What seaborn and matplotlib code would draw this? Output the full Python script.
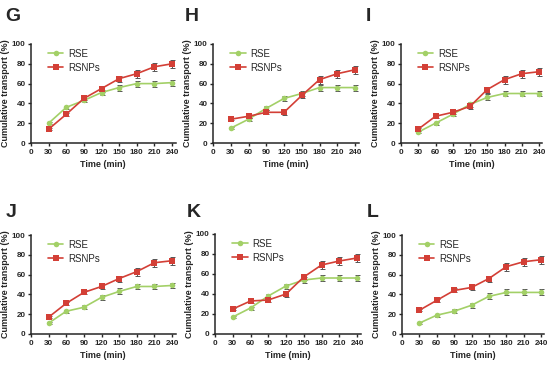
import numpy as np
import pandas as pd
import matplotlib
matplotlib.use('Agg')
import matplotlib.pyplot as plt
import seaborn as sns

# Time points (min)
time = [30, 60, 90, 120, 150, 180, 210, 240]
panels = ['G', 'H', 'I', 'J', 'K', 'L']

# Cumulative transport (%)
rse_G = [20, 36, 43, 51, 56, 60, 60, 61]
rsnp_G = [14, 29, 45, 55, 65, 70, 77, 80]
rse_H = [15, 24, 35, 45, 50, 56, 56, 56]
rsnp_H = [24, 27, 31, 31, 48, 64, 70, 74]
rse_I = [11, 20, 29, 39, 46, 50, 50, 50]
rsnp_I = [14, 27, 31, 37, 54, 64, 70, 72]
rse_J = [11, 23, 27, 37, 43, 48, 48, 49]
rsnp_J = [17, 31, 42, 48, 56, 63, 72, 74]
rse_K = [17, 26, 38, 48, 54, 56, 56, 56]
rsnp_K = [25, 33, 34, 40, 57, 69, 73, 76]
rse_L = [11, 19, 23, 29, 38, 42, 42, 42]
rsnp_L = [24, 34, 44, 47, 56, 68, 73, 75]

# error bars (SD)
err_rse = [1, 1.5, 2, 2.5, 3, 3, 3, 3]
err_rsnp = [1, 1.5, 2, 3, 3, 4, 4, 4]

rse_all = [rse_G, rse_H, rse_I, rse_J, rse_K, rse_L]
rsnp_all = [rsnp_G, rsnp_H, rsnp_I, rsnp_J, rsnp_K, rsnp_L]

green = '#a3d067'
red = '#d33f36'

sns.set_style('ticks')
plt.rcParams['font.family'] = ['Liberation Sans', 'DejaVu Sans']

W, H = 550, 367
fig = plt.figure(figsize=(5.5, 3.67), dpi=100)

# axes pixel boxes: left, top, right(240 tick), bottom
boxes = [(31, 44, 172, 143), (213, 44, 355, 143), (401, 44, 539, 143),
         (31, 235, 172, 334), (215, 234, 357, 334), (402, 235, 541, 334)]
# panel letter positions (x, baseline y) in pixels from top-left
letters = [(5, 21), (185, 21), (366, 21), (6, 217), (187, 217), (367, 217)]

for i, p in enumerate(panels):
    l, t, r, b = boxes[i]
    wpx = (r - l) * 246 / 240
    ax = fig.add_axes([l / W, 1 - b / H, wpx / W, (b - t) / H])
    df = pd.DataFrame({
        'time': time * 2,
        'val': rse_all[i] + rsnp_all[i],
        'group': ['RSE'] * 8 + ['RSNPs'] * 8,
    })
    ax.errorbar(time, rse_all[i], yerr=err_rse, fmt='none', ecolor='#555555',
                elinewidth=0.7, capsize=1.8, capthick=0.7, zorder=1)
    ax.errorbar(time, rsnp_all[i], yerr=err_rsnp, fmt='none', ecolor='#555555',
                elinewidth=0.7, capsize=1.8, capthick=0.7, zorder=1)
    sns.lineplot(data=df, x='time', y='val', hue='group', style='group',
                 palette=[green, red], markers=['o', 's'], dashes=False,
                 markersize=4, markeredgewidth=0, linewidth=1.2, ax=ax)
    ax.set_xlim(0, 246)
    ax.set_ylim(0, 100)
    ax.set_xticks([0, 30, 60, 90, 120, 150, 180, 210, 240])
    ax.set_yticks([0, 20, 40, 60, 80, 100])
    ax.tick_params(labelsize=5.8, width=1, length=2.5, pad=1.5)
    for lab in ax.get_xticklabels() + ax.get_yticklabels():
        lab.set_fontweight('bold')
    for s in ['left', 'bottom']:
        ax.spines[s].set_linewidth(1.1)
    sns.despine(ax=ax)
    ax.set_xlabel('Time (min)', fontsize=6.5, fontweight='bold', labelpad=3)
    ax.set_ylabel('Cumulative transport (%)', fontsize=6.5, fontweight='bold', labelpad=1)
    ax.legend(loc='upper left', bbox_to_anchor=(0.07, 1.02), frameon=False,
              fontsize=7, handlelength=1.6, handletextpad=0.5, borderpad=0.2,
              labelspacing=0.4, title=None)
    lx, ly = letters[i]
    fig.text(lx / W, 1 - ly / H, p, fontsize=14, fontweight='bold',
             ha='left', va='baseline')

fig.savefig('out.png', dpi=100)
